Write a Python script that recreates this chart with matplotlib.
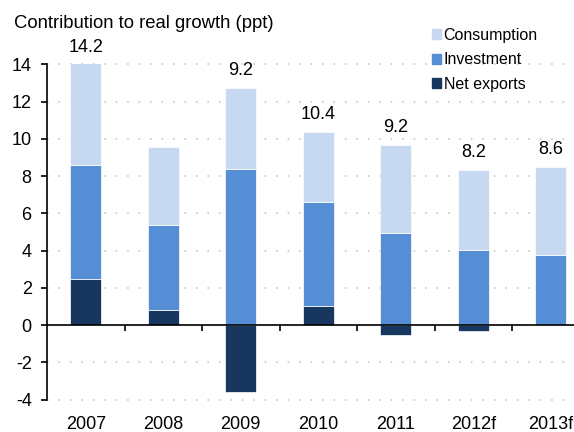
import matplotlib
matplotlib.use("Agg")
import matplotlib.pyplot as plt
from matplotlib.patches import Patch
from matplotlib.transforms import blended_transform_factory
import numpy as np

plt.rcParams['font.family'] = ['Liberation Sans', 'DejaVu Sans']
plt.rcParams['axes.unicode_minus'] = False

# data
years = ["2007", "2008", "2009", "2010", "2011", "2012f", "2013f"]
net_exports = [2.5, 0.8, -3.6, 1.0, -0.55, -0.3, 0.0]
investment = [6.1, 4.6, 8.4, 5.6, 4.95, 4.05, 3.75]
consumption = [5.6, 4.15, 4.35, 3.8, 4.75, 4.3, 4.75]
total_labels = ["14.2", "", "9.2", "10.4", "9.2", "8.2", "8.6"]

c_cons = "#c6d9f1"
c_inv = "#558ed5"
c_nx = "#17375e"

fig = plt.figure(figsize=(5.74, 4.32), dpi=100)
ax = fig.add_axes([0.0819, 0.0752, 0.9181, 0.7755])

x = np.arange(len(years))
nx = np.array(net_exports)
inv = np.array(investment)
cons = np.array(consumption)
base = np.clip(nx, 0, None)

w = 0.4
ax.bar(x, nx, w, color=c_nx, edgecolor="white", linewidth=0.5, zorder=3)
ax.bar(x, inv, w, bottom=base, color=c_inv, edgecolor="white", linewidth=0.5, zorder=3)
ax.bar(x, cons, w, bottom=base + inv, color=c_cons, edgecolor="white", linewidth=0.5, zorder=3)

ax.set_xlim(-0.5, 6.3)
ax.set_ylim(-4, 14)

# total labels above each stack
tops = np.minimum(base + inv + cons, 14)
for xi, top, lab in zip(x, tops, total_labels):
    if lab:
        ax.annotate(lab, (xi, top), xytext=(0, 12.5), textcoords="offset points",
                    ha="center", va="center", fontsize=13, annotation_clip=False)

# dotted grid
for yv in [-4, -2, 2, 4, 6, 8, 10, 12, 14]:
    ax.axhline(yv, color="#bfbfbf", lw=1.1, ls=(0, (1, 6.5)), zorder=1, clip_on=False)

ax.axhline(0, color="black", lw=1.2, zorder=4)

for s in ["top", "right", "bottom"]:
    ax.spines[s].set_visible(False)
ax.spines["left"].set_linewidth(1.2)

ax.set_yticks(np.arange(-4, 15, 2))
ax.tick_params(axis="y", direction="out", length=4, width=1.2, pad=7, labelsize=13)

ax.set_xticks(np.arange(0.5, 6.5, 1.0))
ax.tick_params(axis="x", direction="out", length=4, width=1.2, labelbottom=False)
ax.spines["bottom"].set_position(("data", 0))

trans = blended_transform_factory(ax.transData, ax.transAxes)
for xi, yr in zip(x, years):
    ax.text(xi, -0.075, yr, transform=trans, ha="center", va="center", fontsize=13)

fig.text(0.024, 1 - 24 / 432, "Contribution to real growth (ppt)", fontsize=13.3,
         ha="left", va="center")

handles = [Patch(color=c_cons, label="Consumption"),
           Patch(color=c_inv, label="Investment"),
           Patch(color=c_nx, label="Net exports")]
fig.legend(handles=handles, loc="upper left", bbox_to_anchor=(0.752, 0.936),
           frameon=False, fontsize=11.5, handlelength=0.6, handleheight=0.6,
           handletextpad=0.15, labelspacing=0.6, borderaxespad=0, borderpad=0)

fig.savefig("out.png", dpi=100)
